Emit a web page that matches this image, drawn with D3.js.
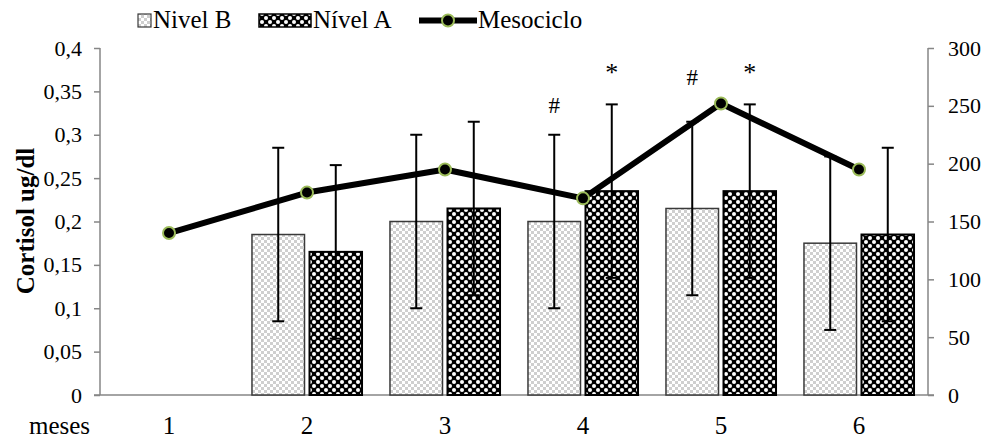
<!DOCTYPE html>
<html>
<head>
<meta charset="utf-8">
<script src="https://cdn.jsdelivr.net/npm/d3@7"></script>
<style>
body{margin:0;background:#fff;}
text{font-family:"Liberation Serif","Times New Roman",serif;fill:#000;}
</style>
</head>
<body>
<svg width="982" height="441"></svg>
<script>
/* data */
const months=['1','2','3','4','5','6'];
const nivelB=[null,0.185,0.2,0.2,0.215,0.175];
const nivelA=[null,0.165,0.215,0.235,0.235,0.185];
const errB=[null,0.1,0.1,0.1,0.1,0.1];
const errA=[null,0.1,0.1,0.1,0.1,0.1];
const mesociclo=[140,175,195,170,252,195];
const leftTicks=[0,0.05,0.1,0.15,0.2,0.25,0.3,0.35,0.4];
const rightTicks=[0,50,100,150,200,250,300];
/* significance marks: month, series, symbol, level on left axis */
const sigMonth=['4','4','5','5'];
const sigSeries=['B','A','B','A'];
const sigMark=['#','*','#','*'];
const sigLevel=[0.334,0.377,0.367,0.377];

const svg=d3.select('svg');

const plotLeft=100, plotRight=928, plotTop=48, plotBottom=395;

const x0=d3.scaleBand()
    .domain(months)
    .range([plotLeft,plotRight]);

const x1=d3.scaleBand()
    .domain(['B','A'])
    .range([0,x0.bandwidth()])
    .paddingInner(0.087)
    .paddingOuter(0.243);

const yL=d3.scaleLinear().domain([0,0.4]).range([plotBottom,plotTop]);
const yR=d3.scaleLinear().domain([0,300]).range([plotBottom,plotTop]);

/* patterns */
const defs=svg.append('defs');
const pB=defs.append('pattern')
    .attr('id','patB')
    .attr('patternUnits','userSpaceOnUse')
    .attr('width',6).attr('height',6);
pB.append('rect').attr('width',6).attr('height',6).attr('fill','#fff');
pB.append('rect').attr('width',3).attr('height',3).attr('fill','#cfcfcf');
pB.append('rect').attr('x',3).attr('y',3).attr('width',3).attr('height',3).attr('fill','#cfcfcf');

const pA=defs.append('pattern')
    .attr('id','patA')
    .attr('patternUnits','userSpaceOnUse')
    .attr('width',8).attr('height',8);
pA.append('rect').attr('width',8).attr('height',8).attr('fill','#000');
pA.append('circle').attr('cx',2).attr('cy',2).attr('r',2).attr('fill','#fff');
pA.append('circle').attr('cx',6).attr('cy',6).attr('r',2).attr('fill','#fff');

/* axes */
const axisColor='#868686';

const gL=svg.append('g')
    .attr('transform',`translate(${plotLeft},0)`)
    .call(d3.axisLeft(yL).tickValues(leftTicks).tickSize(6).tickPadding(12)
        .tickFormat(d=>String(d).replace('.',',')));
const gR=svg.append('g')
    .attr('transform',`translate(${plotRight},0)`)
    .call(d3.axisRight(yR).tickValues(rightTicks).tickSize(6).tickPadding(14));
[gL,gR].forEach(g=>{
    g.select('.domain').attr('stroke',axisColor).attr('stroke-width',1.5)
        .attr('d',`M0,${plotTop}V${plotBottom}`);
    g.selectAll('.tick line').attr('stroke',axisColor).attr('stroke-width',1.5);
    g.selectAll('.tick text').attr('font-size',22).attr('fill','#000');
});

svg.append('line')
    .attr('x1',plotLeft-6).attr('x2',plotRight+6)
    .attr('y1',plotBottom).attr('y2',plotBottom)
    .attr('stroke',axisColor)
    .attr('stroke-width',1.5);

/* x labels */
svg.append('g').selectAll('text')
    .data(months)
    .join('text')
    .attr('x',d=>x0(d)+x0.bandwidth()/2)
    .attr('y',434)
    .attr('text-anchor','middle')
    .attr('font-size',25)
    .text(d=>d);

svg.append('text')
    .attr('x',29).attr('y',434)
    .attr('font-size',25)
    .text('meses');

svg.append('text')
    .attr('transform','translate(34,221) rotate(-90)')
    .attr('text-anchor','middle')
    .attr('font-size',25)
    .attr('font-weight','bold')
    .text('Cortisol ug/dl');

/* bars */
const rows=months.map((m,i)=>[
    {m:m,s:'B',v:nivelB[i],e:errB[i]},
    {m:m,s:'A',v:nivelA[i],e:errA[i]}
]).flat().filter(d=>d.v!=null);

const bars=svg.append('g');
bars.selectAll('rect')
    .data(rows)
    .join('rect')
    .attr('x',d=>x0(d.m)+x1(d.s))
    .attr('y',d=>yL(d.v))
    .attr('width',x1.bandwidth())
    .attr('height',d=>yL(0)-yL(d.v))
    .attr('fill',d=>d.s==='B'?'url(#patB)':'url(#patA)')
    .attr('stroke',d=>d.s==='B'?'#3a3a3a':'#000')
    .attr('stroke-width',d=>d.s==='B'?1.5:2);

/* error bars */
const eg=svg.append('g')
    .attr('stroke','#000')
    .attr('stroke-width',2);
const cx=d=>x0(d.m)+x1(d.s)+x1.bandwidth()/2;
eg.selectAll('line.v')
    .data(rows)
    .join('line')
    .attr('class','v')
    .attr('x1',cx).attr('x2',cx)
    .attr('y1',d=>yL(d.v+d.e))
    .attr('y2',d=>yL(d.v-d.e));
eg.selectAll('line.t')
    .data(rows)
    .join('line')
    .attr('class','t')
    .attr('x1',d=>cx(d)-6).attr('x2',d=>cx(d)+6)
    .attr('y1',d=>yL(d.v+d.e))
    .attr('y2',d=>yL(d.v+d.e));
eg.selectAll('line.b')
    .data(rows)
    .join('line')
    .attr('class','b')
    .attr('x1',d=>cx(d)-6).attr('x2',d=>cx(d)+6)
    .attr('y1',d=>yL(d.v-d.e))
    .attr('y2',d=>yL(d.v-d.e));

/* mesociclo line */
const pts=months.map((m,i)=>({m:m,v:mesociclo[i]}));
const mx=d=>x0(d.m)+x0.bandwidth()/2;
svg.append('path')
    .datum(pts)
    .attr('fill','none')
    .attr('stroke','#000')
    .attr('stroke-width',6)
    .attr('stroke-linejoin','round')
    .attr('d',d3.line().x(mx).y(d=>yR(d.v)));
svg.append('g').selectAll('circle')
    .data(pts)
    .join('circle')
    .attr('cx',mx)
    .attr('cy',d=>yR(d.v))
    .attr('r',6)
    .attr('fill','#000')
    .attr('stroke','#9bbb59')
    .attr('stroke-width',2);

/* significance marks */
svg.append('g').selectAll('text')
    .data(sigMark.map((t,i)=>({t:t,m:sigMonth[i],s:sigSeries[i],lv:sigLevel[i]})))
    .join('text')
    .attr('x',d=>cx(d))
    .attr('y',d=>yL(d.lv)+(d.t==='#'?8:13))
    .attr('text-anchor','middle')
    .attr('font-size',d=>d.t==='#'?23:26)
    .text(d=>d.t);

/* legend */
const lg=svg.append('g');
lg.append('rect')
    .attr('x',138).attr('y',14).attr('width',13).attr('height',13)
    .attr('fill','url(#patB)').attr('stroke','#3a3a3a').attr('stroke-width',1.2);
lg.append('text').attr('x',153).attr('y',28).attr('font-size',25).text('Nivel B');
lg.append('rect')
    .attr('x',259).attr('y',14).attr('width',52).attr('height',13)
    .attr('fill','url(#patA)').attr('stroke','#000').attr('stroke-width',1.5);
lg.append('text').attr('x',313).attr('y',28).attr('font-size',25).text('Nível A');
lg.append('line')
    .attr('x1',419).attr('x2',477).attr('y1',20.5).attr('y2',20.5)
    .attr('stroke','#000').attr('stroke-width',6);
lg.append('circle')
    .attr('cx',448).attr('cy',20.5).attr('r',6)
    .attr('fill','#000').attr('stroke','#9bbb59').attr('stroke-width',2);
lg.append('text').attr('x',478).attr('y',28).attr('font-size',25).text('Mesociclo');
</script>
</body>
</html>
